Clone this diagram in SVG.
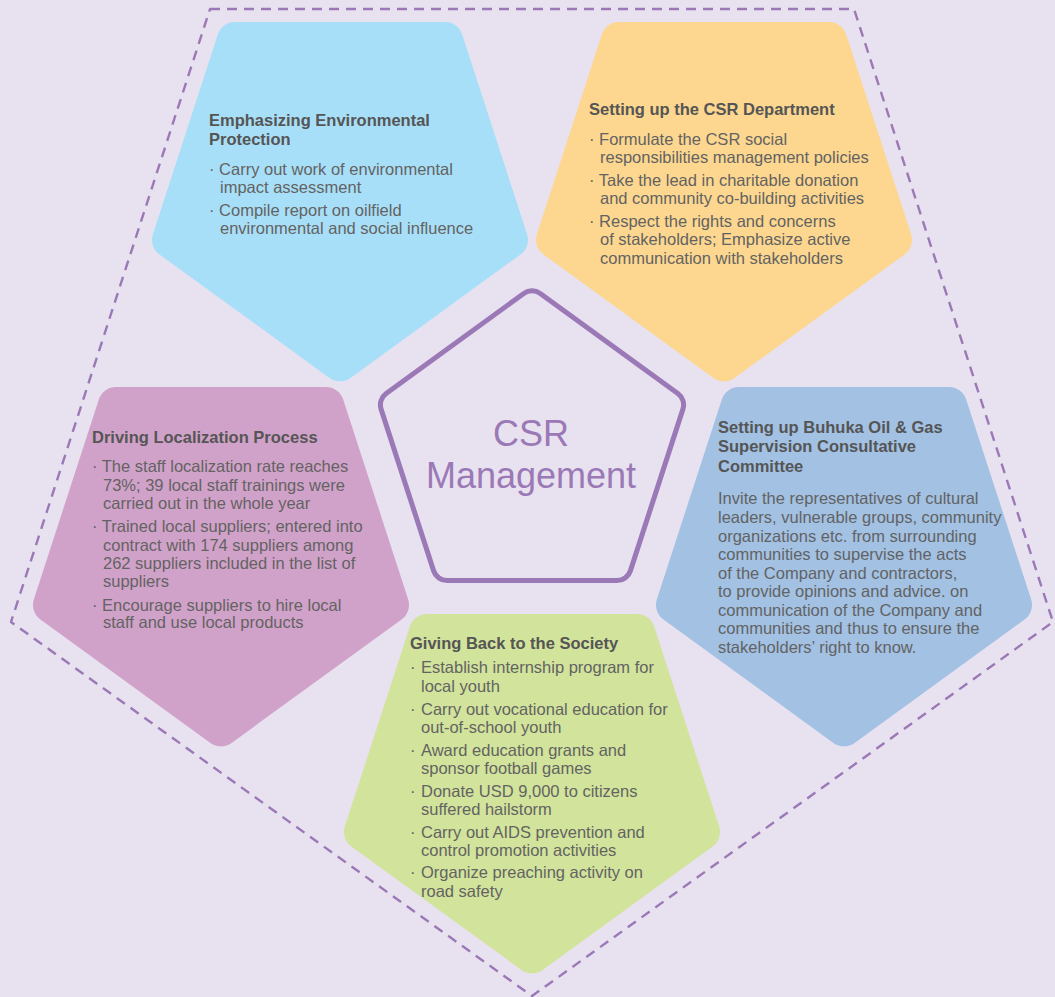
<svg xmlns="http://www.w3.org/2000/svg" width="1055" height="997" viewBox="0 0 1055 997">
  <style>
    .pent { stroke-width: 36; stroke-linejoin: round; }
    .t { font-family: "Liberation Sans", Arial, sans-serif; font-size: 16.5px; fill: #555555; font-weight: bold; }
    .b { font-family: "Liberation Sans", Arial, sans-serif; font-size: 16.5px; fill: #636363; }
    .c { font-family: "Liberation Sans", Arial, sans-serif; font-size: 36px; fill: #9B78B6; text-anchor: middle; }
  </style>
  <rect width="1055" height="997" fill="#E8E2F0"/>

  <g id="connectors">
    <path d="M210,9 L854,9 L1053,622 L532,996 L11,622 Z" fill="none" stroke="#9B78B6" stroke-width="2.4" stroke-dasharray="10 7" stroke-linejoin="round"/>
  </g>

  <g id="node-environment">
    <polygon class="pent" points="340,363.35 170,239.84 234.93,39.99 445.07,39.99 510,239.84" fill="#A8DFF8" stroke="#A8DFF8"/>
    <text class="t" x="209" y="126">Emphasizing Environmental</text>
    <text class="t" x="209" y="145">Protection</text>
    <text class="b" x="209" y="175">· Carry out work of environmental</text>
    <text class="b" x="220" y="193">impact assessment</text>
    <text class="b" x="209" y="216">· Compile report on oilfield</text>
    <text class="b" x="220" y="234">environmental and social influence</text>
  </g>

  <g id="node-csr-department">
    <polygon class="pent" points="724,363.35 554,239.84 618.93,39.99 829.07,39.99 894,239.84" fill="#FDD78F" stroke="#FDD78F"/>
    <text class="t" x="589" y="115">Setting up the CSR Department</text>
    <text class="b" x="589" y="145">· Formulate the CSR social</text>
    <text class="b" x="600" y="163">responsibilities management policies</text>
    <text class="b" x="589" y="186">· Take the lead in charitable donation</text>
    <text class="b" x="600" y="204">and community co-building activities</text>
    <text class="b" x="589" y="227">· Respect the rights and concerns</text>
    <text class="b" x="600" y="245">of stakeholders; Emphasize active</text>
    <text class="b" x="600" y="264">communication with stakeholders</text>
  </g>

  <g id="node-localization">
    <polygon class="pent" points="221,728.35 51,604.84 115.93,404.99 326.07,404.99 391,604.84" fill="#D1A2C9" stroke="#D1A2C9"/>
    <text class="t" x="92" y="443">Driving Localization Process</text>
    <text class="b" x="92" y="472">· The staff localization rate reaches</text>
    <text class="b" x="103" y="491">73%; 39 local staff trainings were</text>
    <text class="b" x="103" y="509">carried out in the whole year</text>
    <text class="b" x="92" y="532">· Trained local suppliers; entered into</text>
    <text class="b" x="103" y="551">contract with 174 suppliers among</text>
    <text class="b" x="103" y="569">262 suppliers included in the list of</text>
    <text class="b" x="103" y="587">suppliers</text>
    <text class="b" x="92" y="611">· Encourage suppliers to hire local</text>
    <text class="b" x="103" y="628">staff and use local products</text>
  </g>

  <g id="node-committee">
    <polygon class="pent" points="844,728.35 674,604.84 738.93,404.99 949.07,404.99 1014,604.84" fill="#A2C1E3" stroke="#A2C1E3"/>
    <text class="t" x="718" y="433">Setting up Buhuka Oil &amp; Gas</text>
    <text class="t" x="718" y="452">Supervision Consultative</text>
    <text class="t" x="718" y="472">Committee</text>
    <text class="b" x="718" y="504">Invite the representatives of cultural</text>
    <text class="b" x="718" y="523">leaders, vulnerable groups, community</text>
    <text class="b" x="718" y="542">organizations etc. from surrounding</text>
    <text class="b" x="718" y="560">communities to supervise the acts</text>
    <text class="b" x="718" y="579">of the Company and contractors,</text>
    <text class="b" x="718" y="597">to provide opinions and advice. on</text>
    <text class="b" x="718" y="616">communication of the Company and</text>
    <text class="b" x="718" y="634">communities and thus to ensure the</text>
    <text class="b" x="718" y="653">stakeholders’ right to know.</text>
  </g>

  <g id="node-society">
    <polygon class="pent" points="532,955.35 362,831.84 426.93,631.99 637.07,631.99 702,831.84" fill="#D2E39B" stroke="#D2E39B"/>
    <text class="t" x="410" y="649">Giving Back to the Society</text>
    <text class="b" x="410" y="673">·</text>
    <text class="b" x="421" y="673">Establish internship program for</text>
    <text class="b" x="421" y="692">local youth</text>
    <text class="b" x="410" y="715">·</text>
    <text class="b" x="421" y="715">Carry out vocational education for</text>
    <text class="b" x="421" y="733">out-of-school youth</text>
    <text class="b" x="410" y="756">·</text>
    <text class="b" x="421" y="756">Award education grants and</text>
    <text class="b" x="421" y="774">sponsor football games</text>
    <text class="b" x="410" y="797">·</text>
    <text class="b" x="421" y="797">Donate USD 9,000 to citizens</text>
    <text class="b" x="421" y="815">suffered hailstorm</text>
    <text class="b" x="410" y="838">·</text>
    <text class="b" x="421" y="838">Carry out AIDS prevention and</text>
    <text class="b" x="421" y="856">control promotion activities</text>
    <text class="b" x="410" y="878">·</text>
    <text class="b" x="421" y="878">Organize preaching activity on</text>
    <text class="b" x="421" y="897">road safety</text>
  </g>

  <g id="node-center">
    <path d="M523.77,293.48 A14,14 0 0 1 540.23,293.48 L677.84,393.46 A14,14 0 0 1 682.93,409.11 L630.36,570.89 A14,14 0 0 1 617.05,580.56 L446.95,580.56 A14,14 0 0 1 433.64,570.89 L381.07,409.11 A14,14 0 0 1 386.16,393.46 Z" fill="#E8E2F0" stroke="#9B78B6" stroke-width="5"/>
    <text class="c" x="531" y="446">CSR</text>
    <text class="c" x="531" y="488">Management</text>
  </g>
</svg>
